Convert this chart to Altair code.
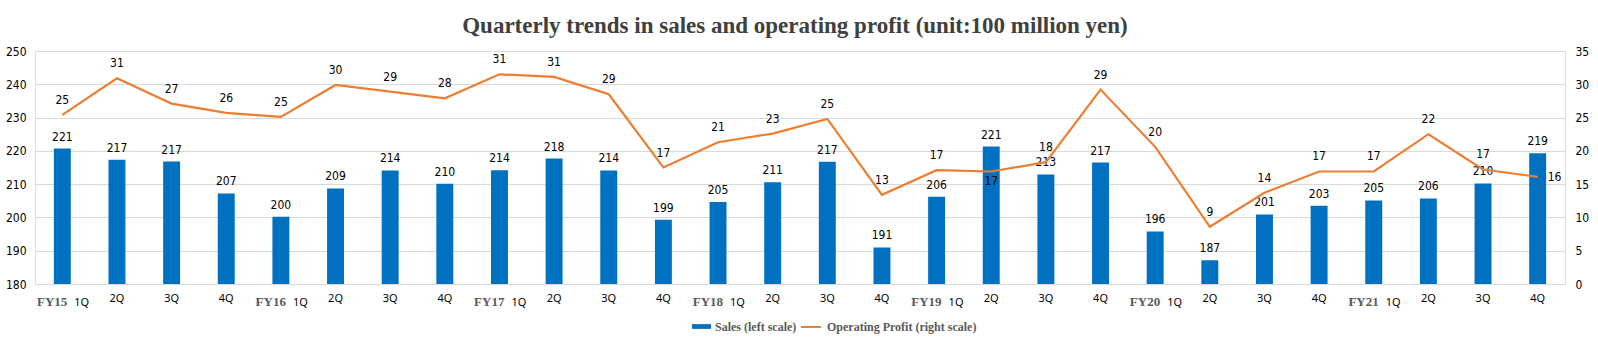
import altair as alt
import pandas as pd

fiscal_years = ["FY15", "FY16", "FY17", "FY18", "FY19", "FY20", "FY21"]
quarters = ["1Q", "2Q", "3Q", "4Q"]

sales = [220.7, 217.3, 216.8, 207.2, 200.2, 208.7, 214.1, 210.1,
         214.2, 217.7, 214.1, 199.3, 204.6, 210.6, 216.7, 191.0,
         206.2, 221.3, 212.9, 216.5, 195.8, 187.1, 200.9, 203.5,
         205.1, 205.7, 210.2, 219.3]
sales_labels = [221, 217, 217, 207, 200, 209, 214, 210,
                214, 218, 214, 199, 205, 211, 217, 191,
                206, 221, 213, 217, 196, 187, 201, 203,
                205, 206, 210, 219]
profit = [25.4, 30.9, 27.1, 25.7, 25.1, 29.9, 28.9, 27.9,
          31.5, 31.1, 28.5, 17.5, 21.3, 22.6, 24.8, 13.4,
          17.1, 16.9, 18.3, 29.2, 20.6, 8.6, 13.7, 16.9,
          16.9, 22.5, 17.2, 16.1]
profit_labels = [25, 31, 27, 26, 25, 30, 29, 28,
                 31, 31, 29, 17, 21, 23, 25, 13,
                 17, 17, 18, 29, 20, 9, 14, 17,
                 17, 22, 17, 16]

title_text = "Quarterly trends in sales and operating profit (unit:100 million yen)"
sales_name = "Sales (left scale)"
profit_name = "Operating Profit (right scale)"

keys = [f"{fy} {q}" for fy in fiscal_years for q in quarters]
df = pd.DataFrame({
    "key": keys,
    "fy": [fy for fy in fiscal_years for q in quarters],
    "q": [q for fy in fiscal_years for q in quarters],
    "sales": sales,
    "sales_label": sales_labels,
    "profit": profit,
    "profit_label": profit_labels,
    "s_series": sales_name,
    "p_series": profit_name,
})

W, H = 1530, 233
NUM_FONT = "Liberation Sans Narrow, DejaVu Sans Condensed, Arial Narrow, sans-serif"
SERIF = "Liberation Serif, Times New Roman, serif"
BLUE = "#0070C0"
ORANGE = "#ED7D31"

base = alt.Chart(df)
xenc = alt.X("key:N", sort=keys, axis=None,
             scale=alt.Scale(paddingInner=0.69, paddingOuter=0.345))

ys = alt.Y("sales:Q", scale=alt.Scale(domain=[180, 250], nice=False, zero=False),
           axis=alt.Axis(values=list(range(180, 251, 10)), title=None, grid=True,
                         gridColor="#D9D9D9", domain=False, ticks=False,
                         labelPadding=9, labelFont=NUM_FONT, labelFontSize=12,
                         labelColor="#000000"))
yp = alt.Y("profit:Q", scale=alt.Scale(domain=[0, 35], nice=False),
           axis=alt.Axis(orient="right", values=list(range(0, 36, 5)), title=None,
                         grid=False, domain=False, ticks=False, labelPadding=10,
                         labelFont=NUM_FONT, labelFontSize=12, labelColor="#000000"))

bars = base.mark_bar(color=BLUE, clip=True).encode(
    x=xenc, y=ys,
    color=alt.Color("s_series:N", scale=alt.Scale(range=[BLUE]),
                    legend=alt.Legend(orient="none", legendX=656, legendY=265, title=None,
                                      symbolType="M-1,-0.25H1V0.25H-1Z", symbolSize=361,
                                      labelFont=SERIF, labelFontSize=12, labelFontWeight="bold",
                                      labelColor="#595959", labelOffset=3, padding=0)))
bar_text = base.mark_text(baseline="bottom", dy=-5, font=NUM_FONT, fontSize=12,
                          color="#000000").encode(x=xenc, y=ys, text="sales_label:Q")

q_text = base.transform_filter(alt.datum.q != "1Q").mark_text(
    baseline="middle", font="Noto Sans", fontSize=11, color="#000000").encode(
    x=xenc, y=alt.value(H + 15), text="q:N")
q1_text = base.transform_filter(alt.datum.q == "1Q").mark_text(
    baseline="middle", align="left", dx=12, font="Noto Sans", fontSize=11,
    color="#000000").encode(x=xenc, y=alt.value(H + 19), text="q:N")
fy_text = base.transform_filter(alt.datum.q == "1Q").mark_text(
    baseline="middle", align="right", dx=5, font=SERIF, fontSize=13, fontWeight="bold",
    color="#595959").encode(x=xenc, y=alt.value(H + 18), text="fy:N")

title_df = pd.DataFrame({"t": [title_text]})
title = alt.Chart(title_df).mark_text(
    baseline="middle", align="center", font=SERIF, fontSize=23, fontWeight="bold",
    color="#404040").encode(x=alt.value(W / 2 - 5), y=alt.value(-25), text="t:N")

line = base.mark_line(strokeWidth=2.2).encode(
    x=xenc, y=yp,
    color=alt.Color("p_series:N", scale=alt.Scale(range=[ORANGE]),
                    legend=alt.Legend(orient="none", legendX=765, legendY=265, title=None,
                                      symbolType="stroke", symbolSize=400,
                                      symbolStrokeWidth=2,
                                      labelFont=SERIF, labelFontSize=12, labelFontWeight="bold",
                                      labelColor="#595959", labelOffset=5, padding=0)))

above_idx = [k for i, k in enumerate(keys) if i not in (17, 27)]
line_text = base.transform_filter(alt.FieldOneOfPredicate(field="key", oneOf=above_idx)).mark_text(
    baseline="bottom", dy=-8, font=NUM_FONT, fontSize=12, color="#000000").encode(
    x=xenc, y=yp, text="profit_label:Q")
line_text_below = base.transform_filter(alt.datum.key == keys[17]).mark_text(
    baseline="top", dy=5, font=NUM_FONT, fontSize=12, color="#000000").encode(
    x=xenc, y=yp, text="profit_label:Q")
line_text_right = base.transform_filter(alt.datum.key == keys[27]).mark_text(
    baseline="middle", align="left", dx=10, font=NUM_FONT, fontSize=12, color="#000000").encode(
    x=xenc, y=yp, text="profit_label:Q")

left = alt.layer(bars, bar_text, q_text, q1_text, fy_text, title)
right = alt.layer(line, line_text, line_text_below, line_text_right)

chart = alt.layer(left, right).resolve_scale(y="independent", color="independent").properties(
    width=W, height=H,
    autosize=alt.AutoSizeParams(type="none"),
    padding={"left": 35, "top": 51, "right": 33, "bottom": 67},
).configure_view(stroke=None).configure(background="white")

chart.save("out.html", embed_options={"renderer": "svg", "actions": False})
